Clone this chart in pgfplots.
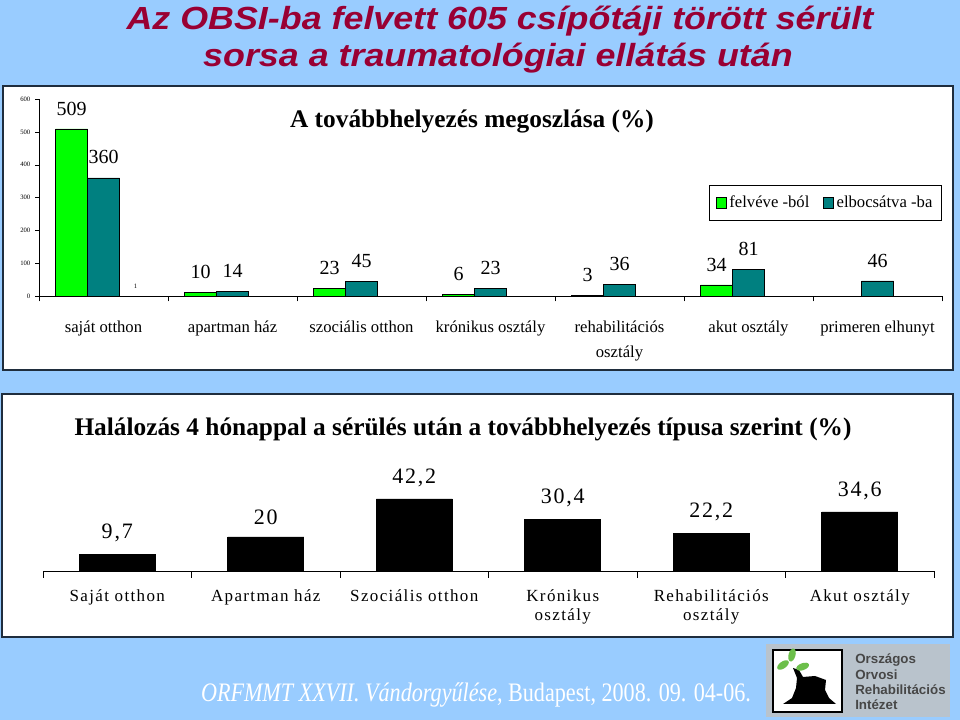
\documentclass[border=0pt]{standalone}
\usepackage{pgfplots}
\pgfplotsset{compat=1.18}
\usepackage{graphicx}
\usepackage{fontspec}
\setmainfont{Liberation Serif}
\newfontfamily\arialf{Liberation Sans}
\newfontfamily\spaced[LetterSpace=8]{Liberation Serif}
\definecolor{bgblue}{HTML}{99CCFF}
\definecolor{titlered}{HTML}{990033}
\definecolor{bargreen}{HTML}{00FF00}
\definecolor{barteal}{HTML}{008080}
\definecolor{panelborder}{HTML}{1F2D3D}
\definecolor{logogray}{HTML}{B9C3CC}
\definecolor{logotext}{HTML}{474747}
\definecolor{leafgreen}{HTML}{6CBF4A}
\pgfplotsset{/pgf/number format/assume math mode=true}
\begin{document}
\begin{tikzpicture}
% background
\fill[bgblue] (0,0) rectangle (720pt,540pt);
% panels
\draw[panelborder, line width=1.5pt, fill=white] (2.25pt,262.5pt) rectangle (714.75pt,475.5pt);
\draw[panelborder, line width=1.5pt, fill=white] (1.5pt,62.25pt) rectangle (714.75pt,244.5pt);
% main title
\node[anchor=base, font=\arialf\bfseries\itshape\fontsize{24}{28}\selectfont, text=titlered] at (375pt,518pt) {\scalebox{1.12}[1]{Az OBSI-ba felvett 605 csípőtáji törött sérült}};
\node[anchor=base, font=\arialf\bfseries\itshape\fontsize{24}{28}\selectfont, text=titlered] at (373.5pt,490pt) {\scalebox{1.12}[1]{sorsa a traumatológiai ellátás után}};
% top chart title
\node[anchor=base, font=\bfseries\fontsize{19}{22}\selectfont] at (354pt,444pt) {A továbbhelyezés megoszlása (\%)};
% top chart
\begin{axis}[
  at={(29.25pt,318pt)}, anchor=south west,
  scale only axis, width=677.25pt, height=147.75pt,
  xmin=-0.5, xmax=6.5, ymin=0, ymax=600,
  axis x line*=bottom, axis y line*=left, axis line style={-, black},
  xtick={0,...,6},
  xticklabels={saját otthon, apartman ház, szociális otthon, krónikus osztály, {rehabilitációs\\osztály}, akut osztály, primeren elhunyt},
  xticklabel style={font=\fontsize{12.5}{18.75}\selectfont, align=center, yshift=-12pt},
  major x tick style={draw=none},
  minor xtick={-0.5,0.5,...,6.5},
  ytick={0,100,...,600},
  yticklabel style={font=\fontsize{5}{6}\selectfont},
  tick align=outside, major tick length=3pt, minor tick length=4pt,
  tick style={black},
  ybar, bar width=24pt,
  nodes near coords,
  every node near coord/.append style={font=\fontsize{15}{16}\selectfont, inner sep=0pt, yshift=10pt, anchor=south},
  legend style={at={(axis description cs:1.0,0.563)}, anchor=north east, legend columns=2, draw=black, font=\fontsize{12.5}{14}\selectfont, inner xsep=5pt, inner ysep=6pt, /tikz/every even column/.append style={column sep=8pt}},
  legend image code/.code={\draw[#1, draw=black] (0pt,-4pt) rectangle (8pt,4pt);},
]
\addplot[fill=bargreen, draw=black, bar shift=-24pt] coordinates {(0,509) (1,10) (2,23) (3,6) (4,3) (5,34)};
\addlegendentry{felvéve -ból}
\addplot[fill=barteal, draw=black, bar shift=0pt] coordinates {(0,360) (1,14) (2,45) (3,23) (4,36) (5,81) (6,46)};
\addlegendentry{elbocsátva -ba}
\addplot[draw=none, fill=none, bar shift=24pt, forget plot, every node near coord/.append style={font=\fontsize{5}{6}\selectfont, yshift=-5pt}] coordinates {(0,1)};
\end{axis}
% bottom chart title
\node[font=\bfseries\fontsize{19}{22}\selectfont] at (347.25pt,218pt) {Halálozás 4 hónappal a sérülés után a továbbhelyezés típusa szerint (\%)};
% bottom chart
\begin{axis}[
  at={(32.25pt,111.75pt)}, anchor=south west,
  scale only axis, width=668.25pt, height=64pt,
  xmin=-0.5, xmax=5.5, ymin=0, ymax=50,
  axis x line*=bottom, axis y line=none, axis line style={-, black},
  xtick={0,...,5},
  xticklabels={Saját otthon, Apartman ház, Szociális otthon, {Krónikus\\osztály}, {Rehabilitációs\\osztály}, Akut osztály},
  xticklabel style={font=\spaced\fontsize{12.75}{14.25}\selectfont, align=center, yshift=-6pt},
  major x tick style={draw=none},
  minor xtick={-0.5,0.5,...,5.5},
  tick align=outside, minor tick length=5pt, tick style={black},
  ybar, bar width=57pt,
  /pgf/number format/use comma,
  nodes near coords,
  every node near coord/.append style={font=\spaced\fontsize{16.5}{18}\selectfont, inner sep=0pt, yshift=9pt, anchor=south},
]
\addplot[fill=black, draw=black, bar shift=0pt] coordinates {(0,9.7) (1,20) (2,42.2) (3,30.4) (4,22.2) (5,34.6)};
\end{axis}
% footer
\node[text=white, font=\fontsize{20}{24}\selectfont] at (357pt,18.75pt) {\scalebox{0.83}[1]{\textit{ORFMMT XXVII. Vándorgyűlése}, Budapest, 2008. 09. 04-06.}};
% logo
\fill[logogray] (574.5pt,2.25pt) rectangle (712.5pt,57pt);
\draw[black, line width=0.8pt, fill=white] (579.75pt,6pt) rectangle (631.5pt,52.5pt);
\fill[black] (587.25pt,12pt) -- (594pt,16.5pt) -- (597pt,24pt) -- (597.75pt,31.5pt) -- (594.75pt,39pt) -- (599.25pt,37.5pt) -- (602.25pt,32.25pt) -- (611.25pt,33pt) -- (619.5pt,30pt) -- (618.75pt,22.5pt) -- (621.75pt,16.5pt) -- (627pt,12pt) -- cycle;
\fill[leafgreen, rotate around={75:(594pt,48.75pt)}] (594pt,48.75pt) ellipse (5pt and 2.6pt);
\fill[leafgreen, rotate around={35:(587.25pt,41.25pt)}] (587.25pt,41.25pt) ellipse (5pt and 2.6pt);
\fill[leafgreen, rotate around={20:(602pt,40pt)}] (602pt,40pt) ellipse (5pt and 2.6pt);
\node[anchor=west, font=\arialf\bfseries\fontsize{10}{11}\selectfont, text=logotext, inner sep=0pt] at (641.25pt,45pt) {Országos};
\node[anchor=west, font=\arialf\bfseries\fontsize{10}{11}\selectfont, text=logotext, inner sep=0pt] at (641.25pt,33.75pt) {Orvosi};
\node[anchor=west, font=\arialf\bfseries\fontsize{10}{11}\selectfont, text=logotext, inner sep=0pt] at (641.25pt,22.5pt) {Rehabilitációs};
\node[anchor=west, font=\arialf\bfseries\fontsize{10}{11}\selectfont, text=logotext, inner sep=0pt] at (641.25pt,11.25pt) {Intézet};
\pgfresetboundingbox
\path[use as bounding box] (0,0) rectangle (720pt,540pt);
\end{tikzpicture}
\end{document}
